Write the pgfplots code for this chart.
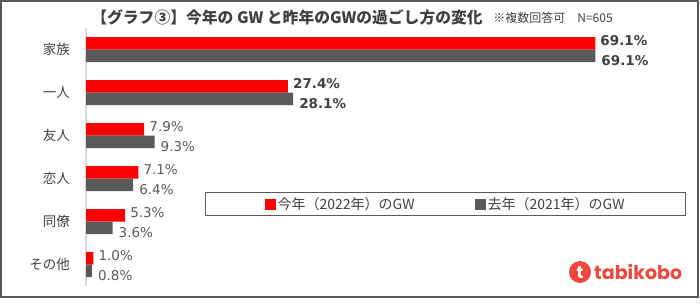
\documentclass[border=0pt]{standalone}
\usepackage{pgfplots}
\usepackage{pgfplotstable}
\pgfplotsset{compat=1.18}
\usepackage{fontspec}
\setmainfont{Noto Sans CJK JP}
\newfontfamily\numfont{DejaVu Sans}
\newfontfamily\logofont{Poppins}

\definecolor{barred}{HTML}{FF0000}
\definecolor{bargray}{HTML}{595959}
\definecolor{txt}{HTML}{404040}
\definecolor{framegray}{HTML}{595959}
\definecolor{axisgray}{HTML}{D9D9D9}
\definecolor{logored}{HTML}{F0483E}

% share of respondents (%), multiple answers allowed, N=605
\pgfplotstableread{
idx this last
0 69.1 69.1
1 27.4 28.1
2 7.9 9.3
3 7.1 6.4
4 5.3 3.6
5 1.0 0.8
}\gwdata

\begin{document}
\begin{tikzpicture}[x=1bp,y=1bp]
\path (0,0) rectangle (700,303);
\draw[framegray, line width=1.3bp] (1,6) rectangle (698,302);

\node[font=\fontsize{15.8bp}{18bp}\selectfont\bfseries, text=txt] at (287,285.5)
  {【グラフ③】今年の GW と昨年のGWの過ごし方の変化};
\node[font=\fontsize{12bp}{14bp}\selectfont, text=txt] at (553,285.5)
  {※複数回答可　N=605};

\begin{axis}[
  at={(86bp,17bp)}, anchor=south west,
  scale only axis, width=589.6bp, height=258bp,
  xmin=0, xmax=80, ymin=-0.5, ymax=5.5,
  y dir=reverse,
  hide x axis,
  axis y line*=left,
  y axis line style={axisgray, line width=1.2bp, -},
  ytick={0,...,5},
  yticklabels={家族,一人,友人,恋人,同僚,その他},
  major tick length=0pt,
  yticklabel style={font=\fontsize{13.5bp}{16bp}\selectfont, text=txt, inner sep=0pt, xshift=-16bp},
  xbar, bar width=12.5bp,
  clip=false,
  visualization depends on={\thisrow{idx}\as\rowidx},
  nodes near coords={\ifdim\rowidx pt<1.5pt\bfseries\color{txt}\fi\pgfmathprintnumber[fixed,fixed zerofill,precision=1,assume math mode=true]{\pgfplotspointmeta}\%},
  every node near coord/.append style={font=\numfont\fontsize{13.5bp}{16bp}\selectfont, text=bargray, anchor=west, inner sep=0pt},
  legend columns=2,
  legend style={at={(1.0176,0.3643)}, anchor=north east, draw=framegray, line width=0.8bp,
    inner xsep=59bp, inner ysep=4bp,
    font=\fontsize{14bp}{16bp}\selectfont, text=txt,
    nodes={inner xsep=2bp, inner ysep=1bp},
    /tikz/every even column/.append style={column sep=58bp}},
  legend image code/.code={\fill[#1] (0bp,-5.5bp) rectangle (11bp,5.5bp);},
]
\addplot[fill=barred, draw=none, bar shift=6.25bp,
  every node near coord/.append style={xshift=5bp, yshift=3bp}]
  table[x=this, y=idx] {\gwdata};
\addlegendentry{今年（2022年）のGW}
\addplot[fill=bargray, draw=none, bar shift=-6.25bp,
  every node near coord/.append style={xshift=6bp, yshift=-4.5bp}]
  table[x=last, y=idx] {\gwdata};
\addlegendentry{去年（2021年）のGW}
\end{axis}

% tabikobo logo
\fill[logored] (580,31) circle (11);
\node[text=white, font=\logofont\bfseries\fontsize{17bp}{17bp}\selectfont] at (580,30.5) {t};
\node[anchor=west, text=logored, font=\logofont\bfseries\fontsize{19bp}{19bp}\selectfont, inner sep=0pt] at (594,31) {tabikobo};
\end{tikzpicture}
\end{document}
